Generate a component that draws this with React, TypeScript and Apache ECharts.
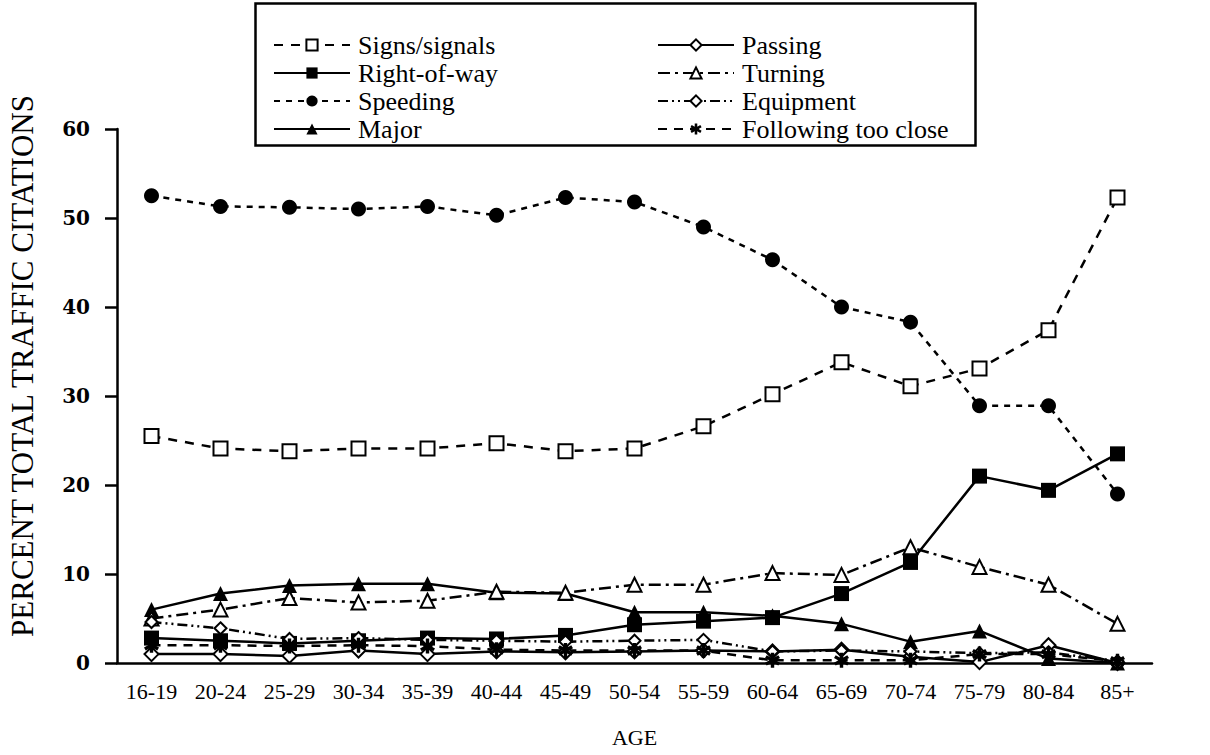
import React, { useEffect, useRef } from "react";
import * as echarts from "echarts";

const ages = ["16-19", "20-24", "25-29", "30-34", "35-39", "40-44", "45-49", "50-54", "55-59", "60-64", "65-69", "70-74", "75-79", "80-84", "85+"];

const signsSignals = [25.5, 24.1, 23.8, 24.1, 24.1, 24.7, 23.8, 24.1, 26.6, 30.2, 33.8, 31.1, 33.1, 37.4, 52.3];
const rightOfWay = [2.8, 2.5, 2.2, 2.5, 2.8, 2.7, 3.1, 4.3, 4.7, 5.1, 7.8, 11.3, 21.0, 19.4, 23.5];
const speeding = [52.5, 51.3, 51.2, 51.0, 51.3, 50.3, 52.3, 51.8, 49.0, 45.3, 40.0, 38.3, 28.9, 28.9, 19.0];
const major = [6.0, 7.8, 8.7, 8.9, 8.9, 7.9, 7.8, 5.7, 5.7, 5.3, 4.4, 2.4, 3.6, 0.5, 0.0];
const passing = [1.0, 1.0, 0.8, 1.4, 1.0, 1.3, 1.2, 1.3, 1.4, 1.3, 1.5, 0.7, 0.1, 2.0, 0.0];
const turning = [5.0, 6.0, 7.3, 6.8, 7.0, 8.0, 7.9, 8.8, 8.8, 10.1, 9.9, 13.0, 10.8, 8.8, 4.4];
const equipment = [4.6, 3.9, 2.7, 2.8, 2.6, 2.5, 2.4, 2.5, 2.6, 1.3, 1.4, 1.3, 1.1, 1.2, 0.2];
const followingTooClose = [2.0, 2.0, 1.9, 2.0, 1.9, 1.5, 1.4, 1.4, 1.4, 0.3, 0.3, 0.3, 1.0, 1.0, 0.2];

const yTicks = { min: 0, max: 60, interval: 10 };
const yTitle = "PERCENT TOTAL TRAFFIC CITATIONS";
const xTitle = "AGE";

const ASTERISK =
  "path://M8 1L12 1L12 19L8 19Z M3.2 3.77L18.8 12.77L16.8 16.23L1.2 7.23Z M1.2 12.77L16.8 3.77L18.8 7.23L3.2 16.23Z";

const SERIF = "'Liberation Serif', 'DejaVu Serif', serif";

export default function App() {
  const ref = useRef<HTMLDivElement>(null);

  useEffect(() => {
    if (!ref.current) return;
    const chart = echarts.init(ref.current, undefined, { renderer: "svg" });

    const lw = 2.5;
    const mk = (
      name: string,
      data: number[],
      symbol: string,
      dash: any,
      size: number,
      empty: boolean
    ) => ({
      name,
      type: "line",
      data,
      symbol,
      symbolSize: size,
      showAllSymbol: true,
      lineStyle: { color: "#000", width: lw, type: dash },
      itemStyle: empty
        ? { color: "#000", borderColor: "#000", borderWidth: lw }
        : { color: "#000", borderWidth: 0 },
      emphasis: { disabled: true },
    });

    const series = [
      mk("Signs/signals", signsSignals, "emptyRect", [9, 8], 14, true),
      mk("Right-of-way", rightOfWay, "rect", "solid", 15, false),
      mk("Speeding", speeding, "circle", [6, 6], 15, false),
      mk("Major", major, "triangle", "solid", 15, false),
      mk("Passing", passing, "emptyDiamond", "solid", 14, true),
      mk("Turning", turning, "emptyTriangle", [12, 5, 3, 5], 14, true),
      mk("Equipment", equipment, "emptyDiamond", [10, 4, 2, 4, 2, 4], 12, true),
      mk("Following too close", followingTooClose, ASTERISK, [9, 7], 15, false),
    ];

    const legendCommon = {
      orient: "vertical",
      itemWidth: 76,
      itemHeight: 14,
      itemGap: 0,
      textStyle: { fontFamily: SERIF, fontSize: 26, lineHeight: 28, color: "#000", padding: [0, 0, 0, 3] },
      inactiveColor: "#000",
      selectedMode: false,
    };

    chart.setOption({
      animation: false,
      backgroundColor: "#fff",
      grid: { left: 117, right: 58, top: 129, bottom: 92 },
      legend: [
        { ...legendCommon, left: 268, top: 26, data: ["Signs/signals", "Right-of-way", "Speeding", "Major"] },
        { ...legendCommon, left: 652, top: 26, data: ["Passing", "Turning", "Equipment", "Following too close"] },
      ],
      graphic: [
        {
          type: "rect",
          left: 253,
          top: 1,
          shape: { width: 720, height: 142 },
          style: { fill: "none", stroke: "#000", lineWidth: 2.5 },
          z: 10,
        },
        {
          type: "text",
          x: 22,
          y: 366,
          rotation: Math.PI / 2,
          style: {
            text: yTitle,
            fontFamily: SERIF,
            fontSize: 31,
            fill: "#000",
            textAlign: "center",
            textVerticalAlign: "middle",
          },
        },
      ],
      xAxis: {
        type: "category",
        data: ages,
        boundaryGap: true,
        name: xTitle,
        nameLocation: "middle",
        nameGap: 63,
        nameTextStyle: { fontFamily: SERIF, fontSize: 22, color: "#000" },
        axisLine: { lineStyle: { color: "#000", width: 2.5 } },
        axisTick: { alignWithLabel: true, length: 12, lineStyle: { color: "#000", width: 2.5 } },
        axisLabel: { fontFamily: SERIF, fontSize: 22, color: "#000", margin: 17, interval: 0 },
      },
      yAxis: {
        type: "value",
        min: yTicks.min,
        max: yTicks.max,
        interval: yTicks.interval,
        axisLine: { show: true, lineStyle: { color: "#000", width: 2.5 } },
        axisTick: { show: true, length: 12, lineStyle: { color: "#000", width: 2.5 } },
        axisLabel: { fontFamily: "'DejaVu Serif', serif", fontWeight: "bold", fontSize: 20, color: "#000", margin: 27 },
        splitLine: { show: false },
      },
      series,
    });

    return () => chart.dispose();
  }, []);

  return (
    <div
      ref={ref}
      style={{ position: "fixed", left: 0, top: 0, width: 1210, height: 755, background: "#fff" }}
    />
  );
}
